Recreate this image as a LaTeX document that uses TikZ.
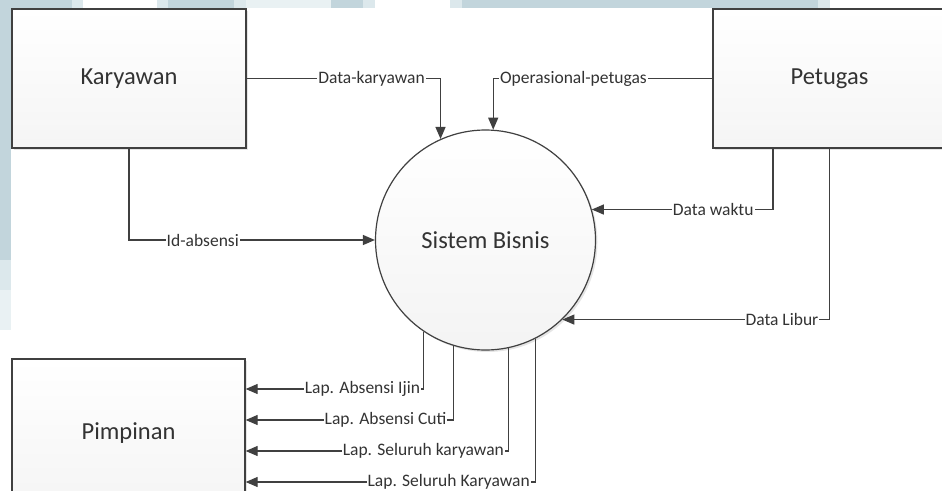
\documentclass[tikz,border=0pt]{standalone}
\usepackage{fontspec}
\setmainfont{Carlito}
\usetikzlibrary{arrows.meta,shadows}
\definecolor{bandA}{HTML}{C2D5DC}
\definecolor{bandB}{HTML}{DCE8EC}
\definecolor{bandC}{HTML}{E9F1F3}
\definecolor{ink}{HTML}{404040}
\definecolor{txt}{HTML}{333333}
\begin{document}
\begin{tikzpicture}[x=1pt,y=-1pt,
  ext/.style={draw=ink, line width=1.3pt, top color=white, bottom color=gray!8,
    drop shadow={shadow xshift=2pt, shadow yshift=-2pt, opacity=0.2},
    font=\fontsize{24.5}{28}\selectfont, text=txt, inner sep=0pt},
  proc/.style={circle, draw=ink, line width=1.2pt, top color=white, bottom color=gray!9,
    drop shadow={shadow xshift=2pt, shadow yshift=-2pt, opacity=0.2},
    font=\fontsize{24.5}{28}\selectfont, text=txt, inner sep=0pt},
  flow/.style={draw=ink, line width=1.2pt, -{Triangle[length=12pt,width=10pt]}},
  lbl/.style={fill=white, inner xsep=1pt, inner ysep=1pt, font=\fontsize{17.5}{20}\selectfont, text=txt}
]
\useasboundingbox (0,0) rectangle (942,490);
\clip (0,0) rectangle (942,490);
\fill[white] (0,0) rectangle (942,490);
% background bands
\fill[bandA] (0,0) rectangle (72,8);
\fill[bandB] (72,0) rectangle (83,8);
\fill[bandB] (157,0) rectangle (168,8);
\fill[bandA] (168,0) rectangle (234,8);
\fill[bandB] (234,0) rectangle (246,8);
\fill[bandC] (246,0) rectangle (331,8);
\fill[bandA] (331,0) rectangle (363,8);
\fill[bandB] (363,0) rectangle (375,8);
\fill[bandB] (450,0) rectangle (462,8);
\fill[bandA] (462,0) rectangle (818,8);
\fill[bandB] (818,0) rectangle (830,8);
\fill[bandA] (0,0) rectangle (11,260);
\fill[bandB] (0,260) rectangle (11,290);
\fill[bandC] (0,290) rectangle (11,330);
% nodes
\node[ext, minimum width=234pt, minimum height=139pt] (K) at (129,78.5) {Karyawan};
\node[ext, minimum width=233pt, minimum height=139pt] (P) at (829.5,78.5) {Petugas};
\node[ext, minimum width=233pt, minimum height=148pt] (M) at (128.5,433) {Pimpinan};
\node[proc, minimum size=220pt] (S) at (485.5,240) {Sistem Bisnis};
% flows
\draw[flow] (K.east) -| node[lbl,pos=0.322]{Data-karyawan} (S.114.4);
\draw[flow] (K.south) |- node[lbl,pos=0.65]{Id-absensi} (S.west);
\draw[flow] (P.west) -| node[lbl,pos=0.317]{Operasional-petugas} (S.86.6);
\draw[flow] ([xshift=-56.5pt]P.south) |- node[lbl,pos=0.665]{Data waktu} (S.16.4);
\draw[flow] (P.south) |- node[lbl,pos=0.589]{Data Libur} (S.-46.7);
\draw[flow] (S.-124.6) |- node[lbl,pos=0.672]{Lap. Absensi Ijin} ([yshift=44pt]M.east);
\draw[flow] (S.-107.2) |- node[lbl,pos=0.663]{Lap. Absensi Cuti} ([yshift=13pt]M.east);
\draw[flow] (S.-78.2) |- node[lbl,pos=0.662]{Lap. Seluruh karyawan} ([yshift=-18pt]M.east);
\draw[flow] (S.-63.2) |- node[lbl,pos=0.65]{Lap. Seluruh Karyawan} ([yshift=-49pt]M.east);
\end{tikzpicture}
\end{document}
